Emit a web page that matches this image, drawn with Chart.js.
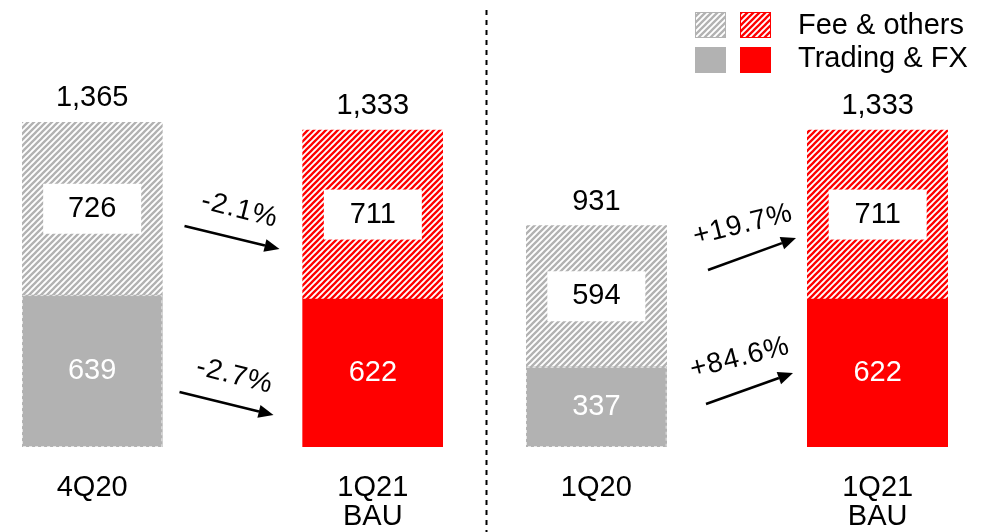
<!DOCTYPE html>
<html><head><meta charset="utf-8">
<script src="https://cdn.jsdelivr.net/npm/chart.js@4/dist/chart.umd.min.js"></script>
<style>
html,body{margin:0;padding:0;background:#fff;}
#wrap{position:relative;width:982px;height:532px;overflow:hidden;background:#fff;}
#left{position:absolute;left:0;top:0;}
#right{position:absolute;left:490px;top:0;}
</style></head><body>
<div id="wrap"><canvas id="left" width="490" height="532"></canvas><canvas id="right" width="492" height="532"></canvas></div>
<script>
// ---- data ----
const periods = ['4Q20', '1Q21 BAU', '1Q20', '1Q21 BAU'];
const tradingFx = [639, 622, 337, 622];
const feeOthers = [726, 711, 594, 711];
const totals = [1365, 1333, 931, 1333];
const feeChange = ['-2.1%', '+19.7%'];
const tradingChange = ['-2.7%', '+84.6%'];
const seriesNames = ['Trading & FX', 'Fee & others'];

// ---- styles ----
const GREY = '#b2b2b2', RED = '#ff0000';
const FONT = "'Liberation Sans', Arial, Helvetica, sans-serif";
const FS = 29;

function hatch(color) {
  const c = document.createElement('canvas');
  c.width = 6; c.height = 6;
  const g = c.getContext('2d');
  g.fillStyle = '#fff'; g.fillRect(0, 0, 6, 6);
  g.strokeStyle = color; g.lineWidth = 2.3;
  g.beginPath();
  g.moveTo(-3, 3); g.lineTo(3, -3);
  g.moveTo(0, 6); g.lineTo(6, 0);
  g.moveTo(3, 9); g.lineTo(9, 3);
  g.stroke();
  return g.createPattern(c, 'repeat');
}
const HATCH_GREY = hatch(GREY), HATCH_RED = hatch(RED);

function drawArrow(ctx, x1, y1, x2, y2) {
  const ang = Math.atan2(y2 - y1, x2 - x1);
  const hl = 15, hw = 6.5;
  const bx = x2 - hl * Math.cos(ang), by = y2 - hl * Math.sin(ang);
  ctx.strokeStyle = '#000'; ctx.fillStyle = '#000'; ctx.lineWidth = 2.5;
  ctx.beginPath(); ctx.moveTo(x1, y1); ctx.lineTo(bx, by); ctx.stroke();
  ctx.beginPath();
  ctx.moveTo(x2, y2);
  ctx.lineTo(bx + hw * Math.sin(ang), by - hw * Math.cos(ang));
  ctx.lineTo(bx - hw * Math.sin(ang), by + hw * Math.cos(ang));
  ctx.closePath(); ctx.fill();
}

function makeChart(id, k, pad, annots, extraDraw) {
  const a = 2 * k, b = 2 * k + 1;
  const labels = [periods[a].split(' '), '', periods[b].split(' ')];
  const barTotals = [totals[a], null, totals[b]];
  const plugin = {
    id: 'custom' + id,
    afterDatasetsDraw(chart) {
      const ctx = chart.ctx;
      const tMeta = chart.getDatasetMeta(0), fMeta = chart.getDatasetMeta(1);
      const ds = chart.data.datasets;
      ctx.save();
      // dashed light edge on the solid grey bar
      tMeta.data.forEach((tb, i) => {
        if (ds[0].backgroundColor[i] !== GREY) return;
        const w = tb.width;
        ctx.save();
        ctx.strokeStyle = '#e6e6e6'; ctx.lineWidth = 1; ctx.setLineDash([3, 3]);
        ctx.strokeRect(tb.x - w / 2 + 0.5, tb.y + 0.5, w - 1, tb.base - tb.y - 1);
        ctx.restore();
      });
      ctx.font = FS + 'px ' + FONT;
      ctx.textAlign = 'center'; ctx.textBaseline = 'middle';
      fMeta.data.forEach((bar, i) => {
        const v = ds[1].data[i];
        if (v == null) return;
        const tb = tMeta.data[i];
        ctx.fillStyle = '#fff';
        ctx.fillText(String(ds[0].data[i]), tb.x, (tb.y + tb.base) / 2);
        const my = (bar.y + bar.base) / 2;
        ctx.fillStyle = '#fff';
        ctx.fillRect(bar.x - 49, my - 25, 98, 50);
        ctx.fillStyle = '#000';
        ctx.fillText(String(v), bar.x, my);
        ctx.fillText(barTotals[i].toLocaleString('en-US'), bar.x, bar.y - 24);
      });
      // change annotations
      const mid = chart.scales.x.getPixelForValue(1);
      annots.forEach(an => {
        ctx.save();
        ctx.translate(mid + an.tx, an.ty);
        ctx.rotate(an.angle * Math.PI / 180);
        ctx.fillStyle = '#000';
        ctx.font = '28px ' + FONT;
        try { ctx.letterSpacing = '1px'; } catch (e) {}
        ctx.fillText(an.text, 0, 0);
        ctx.restore();
        drawArrow(ctx, mid + an.x1, an.y1, mid + an.x2, an.y2);
      });
      if (extraDraw) extraDraw(ctx, chart);
      ctx.restore();
    }
  };
  return new Chart(document.getElementById(id), {
    type: 'bar',
    data: {
      labels,
      datasets: [
        { label: seriesNames[0], data: [tradingFx[a], null, tradingFx[b]],
          backgroundColor: [GREY, 'rgba(0,0,0,0)', RED], borderWidth: 0,
          categoryPercentage: 1, barPercentage: 1 },
        { label: seriesNames[1], data: [feeOthers[a], null, feeOthers[b]],
          backgroundColor: [HATCH_GREY, 'rgba(0,0,0,0)', HATCH_RED], borderWidth: 0,
          categoryPercentage: 1, barPercentage: 1 }
      ]
    },
    options: {
      responsive: false, animation: false,
      layout: { padding: { left: pad.l, right: pad.r, top: 0, bottom: 0 } },
      plugins: { legend: { display: false }, tooltip: { enabled: false } },
      scales: {
        x: { stacked: true,
             grid: { display: false, drawTicks: false }, border: { display: false },
             ticks: { color: '#000', font: { family: FONT, size: FS, lineHeight: 1.0 },
                      padding: 26, maxRotation: 0, autoSkip: false },
             afterFit: s => { s.height = 85; } },
        y: { stacked: true, display: false, min: 0, max: 1880 }
      }
    },
    plugins: [plugin]
  });
}

makeChart('left', 0, { l: 22, r: 47 }, [
  { text: feeChange[0], tx: 7, ty: 210, angle: 14, x1: -48, y1: 226, x2: 47, y2: 249 },
  { text: tradingChange[0], tx: 2, ty: 376, angle: 14, x1: -53, y1: 392, x2: 41, y2: 415 }
], (ctx) => {
  ctx.save();
  ctx.strokeStyle = '#000'; ctx.lineWidth = 2; ctx.setLineDash([5, 5]);
  ctx.beginPath(); ctx.moveTo(486.5, 10); ctx.lineTo(486.5, 532); ctx.stroke();
  ctx.restore();
});

makeChart('right', 1, { l: 36, r: 34 }, [
  { text: feeChange[1], tx: 6, ty: 225, angle: -14, x1: -29, y1: 270, x2: 59, y2: 238 },
  { text: tradingChange[1], tx: 3, ty: 358, angle: -14, x1: -31, y1: 404, x2: 56, y2: 373 }
], (ctx) => {
  // legend
  ctx.save();
  const sw = [[205, 12, HATCH_GREY, GREY], [250, 12, HATCH_RED, RED], [205, 47, GREY, GREY], [250, 47, RED, RED]];
  sw.forEach(([x, y, fill, stroke]) => {
    ctx.fillStyle = fill; ctx.fillRect(x, y, 31, 26);
    ctx.strokeStyle = stroke; ctx.lineWidth = 1; ctx.strokeRect(x + 0.5, y + 0.5, 30, 25);
  });
  ctx.fillStyle = '#000'; ctx.font = FS + 'px ' + FONT;
  ctx.textAlign = 'left'; ctx.textBaseline = 'middle';
  ctx.fillText(seriesNames[1], 308, 26);
  ctx.fillText(seriesNames[0], 308, 59);
  ctx.restore();
});
</script>
</body></html>
